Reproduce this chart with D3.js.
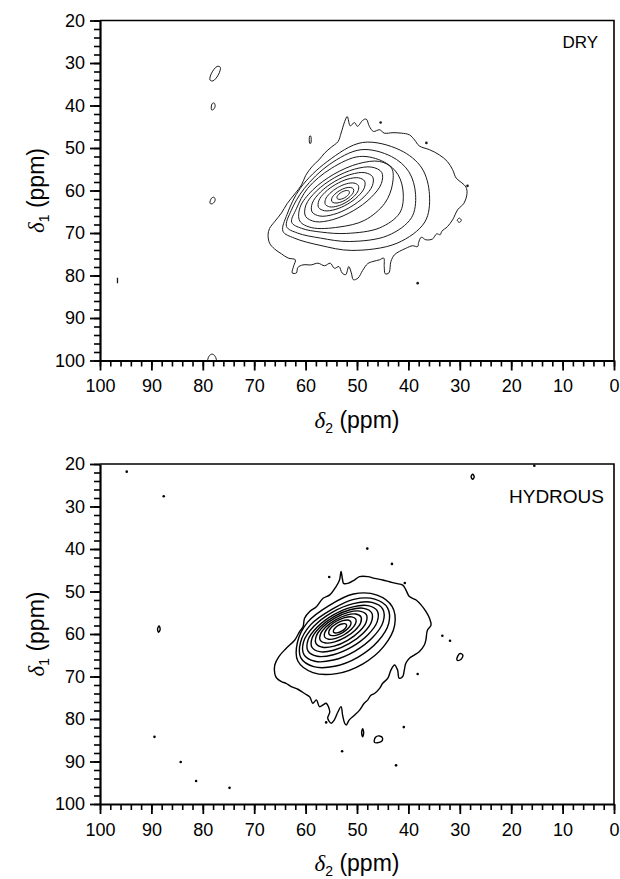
<!DOCTYPE html>
<html lang="en">
<head>
<meta charset="UTF-8">
<title>DRY / HYDROUS contour</title>
<style>
  body { margin: 0; background: #fff; }
  svg { display: block; font-family: "Liberation Sans", Arial, sans-serif; }
</style>
</head>
<body>
<script src="https://d3js.org/d3.v7.min.js"></script>
<script>
// axis ticks
const xTicks = [100, 90, 80, 70, 60, 50, 40, 30, 20, 10, 0];
const yTicks = [20, 30, 40, 50, 60, 70, 80, 90, 100];

// ---- DRY panel: contours as [delta2, delta1] points
const dryOuter = [[51.9,42.6],[51.3,44.8],[50.5,44.0],[49.9,44.9],[48.9,43.5],[48.2,43.2],[47.6,44.9],[46.8,46.1],[45.6,45.7],[44.7,46.5],[43.0,46.4],[41.4,46.5],[39.8,46.9],[38.8,48.1],[37.9,49.5],[35.9,50.4],[34.0,51.6],[32.4,53.2],[31.4,55.1],[30.7,57.1],[29.6,58.2],[28.8,59.2],[28.6,60.7],[29.2,63.0],[30.4,64.5],[31.4,66.9],[32.4,68.5],[33.5,69.6],[33.8,70.4],[34.5,70.2],[35.3,71.4],[36.6,71.6],[37.5,71.0],[38.0,72.2],[38.2,73.2],[39.2,73.0],[40.5,73.6],[41.7,74.3],[42.7,75.1],[43.4,76.7],[43.8,79.4],[44.5,79.6],[44.7,77.9],[44.8,75.9],[45.6,76.3],[46.9,76.7],[47.9,77.2],[48.9,78.8],[49.8,80.6],[50.7,81.0],[51.1,79.4],[51.6,77.9],[52.2,79.8],[52.9,79.4],[53.5,77.9],[54.4,78.3],[55.2,77.1],[56.3,77.7],[57.6,77.1],[58.9,77.5],[60.5,77.5],[61.5,78.1],[61.8,79.4],[62.6,79.4],[62.3,77.7],[62.0,76.3],[63.4,75.9],[64.7,74.9],[66.0,73.8],[67.0,72.4],[67.3,70.4],[67.0,68.9],[66.0,67.3],[64.7,65.3],[63.6,63.1],[62.1,60.8],[60.8,58.7],[60.0,56.5],[58.7,54.3],[57.4,52.8],[56.3,51.2],[55.0,49.8],[53.7,48.5],[53.1,46.5],[52.4,43.8]];

const dryRings = [
  [[51.51,60.22],[51.83,60.00],[52.37,60.07],[53.00,60.39],[53.55,60.89],[53.87,61.42],[53.87,61.86],[53.55,62.08],[53.01,62.01],[52.38,61.69],[51.83,61.19],[51.51,60.66]],
  [[50.69,59.64],[51.24,59.28],[52.22,59.40],[53.34,59.99],[54.32,60.88],[54.90,61.82],[54.91,62.58],[54.36,62.94],[53.38,62.82],[52.26,62.23],[51.28,61.34],[50.70,60.40]],
  [[49.75,58.82],[50.60,58.25],[52.07,58.43],[53.78,59.32],[55.27,60.67],[56.14,62.11],[56.15,63.28],[55.30,63.85],[53.83,63.67],[52.12,62.78],[50.63,61.43],[49.76,59.99]],
  [[48.53,57.77],[49.69,57.02],[51.74,57.30],[54.12,58.55],[56.21,60.42],[57.43,62.42],[57.47,64.01],[56.31,64.76],[54.27,64.48],[51.88,63.23],[49.80,61.36],[48.57,59.36]],
  [[46.95,56.79],[48.47,55.81],[51.16,56.20],[54.31,57.85],[57.06,60.32],[58.69,62.95],[58.75,65.03],[57.23,66.01],[54.54,65.62],[51.39,63.97],[48.64,61.50],[47.01,58.87]],
  [[45.19,55.74],[47.11,54.50],[50.50,54.98],[54.45,57.04],[57.91,60.15],[59.95,63.46],[60.01,66.08],[58.10,67.33],[54.71,66.85],[50.75,64.78],[47.30,61.68],[45.26,58.37]],
  [[43.27,54.72],[45.62,53.16],[49.72,53.69],[54.49,56.16],[58.65,59.92],[61.08,63.96],[61.13,67.18],[58.79,68.75],[53.5,68.6],[48.5,67.0],[44.6,63.0],[43.1,58.5]],
  [[62.7,67.5],[61.8,64.3],[59.6,59.5],[55.0,54.8],[49.5,52.0],[44.7,53.3],[42.0,56.3],[41.0,60.8],[41.7,65.3],[45.6,68.8],[52.0,70.1],[56.9,69.8],[60.8,68.9]],
  [[63.7,68.5],[62.8,64.7],[60.3,59.6],[55.4,53.9],[49.2,50.4],[43.3,52.0],[39.9,55.6],[38.6,61.0],[39.4,66.4],[44.0,70.6],[51.5,72.0],[57.1,71.2],[61.6,70.0]],
  [[64.4,69.6],[63.6,65.6],[61.0,59.4],[55.8,53.2],[48.9,48.7],[41.6,50.5],[37.4,54.7],[35.9,61.0],[36.8,67.4],[42.2,72.4],[51.0,74.1],[57.2,72.9],[62.2,71.2]]
];

const dryIslands = [
  [[78.6,34.0],[78.3,32.4],[77.2,30.8],[76.6,31.0],[76.9,32.6],[78.0,34.2]],
  [[78.3,41.0],[78.2,39.6],[77.8,39.4],[77.6,40.2],[78.0,41.0]],
  [[78.6,63.0],[78.3,61.8],[77.8,61.6],[77.6,62.3],[78.1,63.1]],
  [[79.0,100.4],[78.8,99.0],[78.2,98.5],[77.6,99.0],[77.4,100.4]],
  [[59.2,48.9],[59.2,47.2],[59.0,47.2],[59.0,48.9]],
  [[30.5,67.0],[30.1,66.5],[29.7,67.0],[30.1,67.5]]
];
const dryDashes = [[[96.6,81.8],[96.6,80.5]]];
const dryDots = [[36.5,48.8],[45.4,44.0],[38.2,81.8],[28.5,58.9]];

// ---- HYDROUS panel
const hydOuter = [[53.1,45.3],[52.8,47.3],[52.6,48.1],[51.8,48.1],[50.5,47.3],[49.5,46.5],[47.9,46.5],[46.6,46.9],[45.0,47.3],[43.7,47.7],[42.4,48.1],[41.1,48.5],[40.5,49.6],[39.8,51.2],[38.5,52.0],[37.5,53.2],[36.6,54.7],[35.9,56.3],[35.6,57.9],[36.3,59.1],[36.6,61.4],[36.9,62.6],[37.9,64.2],[38.8,64.9],[39.8,65.7],[40.5,66.9],[40.8,68.5],[41.1,70.0],[41.8,70.4],[42.1,68.5],[42.7,67.3],[43.4,68.5],[44.0,70.4],[45.0,71.6],[45.6,72.8],[46.6,74.0],[47.3,74.4],[47.9,75.5],[48.6,76.3],[49.5,77.9],[50.5,79.1],[51.5,80.2],[52.1,81.4],[52.4,81.0],[52.8,79.1],[53.1,77.1],[53.7,78.3],[54.4,80.2],[55.0,81.0],[55.7,79.8],[55.3,78.3],[56.0,76.3],[56.6,76.7],[57.3,77.1],[57.9,75.5],[58.6,76.3],[59.2,74.8],[60.2,74.0],[61.5,73.0],[62.8,72.4],[63.8,71.6],[64.7,71.2],[65.6,70.4],[66.0,69.3],[66.0,67.3],[65.2,65.3],[63.8,63.4],[62.1,61.4],[61.2,59.5],[60.5,58.3],[60.2,56.3],[59.2,54.7],[57.9,53.6],[56.6,51.6],[55.3,50.8],[54.1,48.9],[53.4,47.3]];

const hydRings = [
  [[52.05,57.78],[52.38,57.57],[52.96,57.64],[53.63,57.99],[54.22,58.52],[54.56,59.09],[54.57,59.54],[54.24,59.76],[53.66,59.68],[52.99,59.33],[52.40,58.80],[52.06,58.24]],
  [[51.22,57.07],[51.77,56.71],[52.75,56.84],[53.87,57.42],[54.86,58.31],[55.43,59.25],[55.44,60.01],[54.89,60.37],[53.92,60.25],[52.79,59.66],[51.81,58.78],[51.23,57.83]],
  [[50.24,56.47],[51.03,55.96],[52.42,56.15],[54.03,57.00],[55.45,58.27],[56.27,59.64],[56.30,60.71],[55.51,61.23],[54.13,61.03],[52.51,60.18],[51.10,58.91],[50.27,57.55]],
  [[49.23,55.95],[50.25,55.30],[52.05,55.56],[54.16,56.67],[56.01,58.32],[57.11,60.08],[57.15,61.47],[56.14,62.12],[54.33,61.86],[52.22,60.75],[50.37,59.10],[49.28,57.34]],
  [[48.18,55.46],[49.47,54.62],[51.71,54.91],[54.32,56.26],[56.60,58.32],[57.93,60.52],[57.96,62.28],[56.68,63.13],[54.44,62.84],[51.82,61.48],[49.55,59.43],[48.22,57.23]],
  [[47.15,55.00],[48.69,53.96],[51.37,54.29],[54.47,55.90],[57.18,58.35],[58.75,61.00],[58.77,63.12],[57.24,64.16],[54.56,63.83],[51.45,62.22],[48.75,59.77],[47.18,57.12]],
  [[46.06,54.57],[47.86,53.32],[50.99,53.66],[54.60,55.50],[57.73,58.36],[59.54,61.46],[59.54,63.97],[57.74,65.23],[54.61,64.88],[51.00,63.04],[47.87,60.18],[46.06,57.09]],
  [[44.98,54.13],[47.11,52.56],[50.72,52.84],[54.84,54.89],[58.39,58.19],[60.39,61.82],[60.32,64.83],[58.20,66.41],[54.59,66.13],[50.46,64.07],[46.92,60.78],[44.92,57.15]],
  [[44.06,53.84],[46.55,51.78],[50.64,51.84],[54.9,54.2],[59.0,57.8],[61.0,62.0],[60.92,65.60],[58.43,67.67],[54.35,67.60],[49.77,65.43],[45.92,61.72],[43.83,57.49]],
  [[43.15,53.54],[46.09,50.84],[50.69,50.58],[55.3,53.2],[59.6,57.2],[61.6,62.0],[61.51,66.36],[58.58,69.07],[53.97,69.33],[48.92,67.08],[44.79,62.92],[42.68,57.97]]
];

const hydIslands = [
  [[88.6,59.6],[88.3,58.9],[88.5,58.1],[88.8,58.8]],
  [[30.5,66.2],[29.8,66.0],[29.4,65.0],[29.9,64.6],[30.4,65.2]],
  [[48.9,84.2],[48.7,83.2],[48.9,82.3],[49.1,83.2]],
  [[46.6,85.5],[45.4,85.4],[45.0,84.6],[45.6,84.0],[46.4,84.3]],
  [[27.5,23.6],[27.2,23.0],[27.5,22.4],[27.8,23.0]]
];
const hydDashes = [];
const hydDots = [[94.8,21.8],[87.6,27.6],[89.4,84.2],[84.3,90.1],[81.3,94.6],[74.8,96.2],[48.0,39.9],[43.2,43.5],[40.7,48.0],[55.4,46.6],[33.4,60.4],[31.9,61.6],[38.2,69.4],[40.9,81.9],[56.0,80.8],[52.9,87.6],[42.4,90.9],[15.5,20.4]];

// ---- layout
const W = 620, H = 879;
const left = 100, right = 614, plotH = 340;

const svg = d3.select("body").append("svg")
    .attr("width", W)
    .attr("height", H);

drawPanel(20.5, "DRY", 17, 598, 48, dryOuter, dryRings, dryIslands, dryDashes, dryDots, 1, "#1a1a1a");
drawPanel(464, "HYDROUS", 19, 604, 503, hydOuter, hydRings, hydIslands, hydDashes, hydDots, 1.4, "#000");

function drawPanel(top, name, nameSize, labelX, labelY, outer, rings, islands, dashes, dots, lw, col) {
    const x = d3.scaleLinear().domain([100, 0]).range([left, right]);
    const y = d3.scaleLinear().domain([20, 100]).range([top, top + plotH]);

    const clipId = "clip-" + name;
    svg.append("clipPath").attr("id", clipId)
        .append("rect")
        .attr("x", left).attr("y", top)
        .attr("width", right - left).attr("height", plotH);

    const g = svg.append("g").attr("clip-path", `url(#${clipId})`);

    const smooth = d3.line()
        .x(d => x(d[0]))
        .y(d => y(d[1]))
        .curve(d3.curveCatmullRomClosed.alpha(0.5));
    const open = d3.line()
        .x(d => x(d[0]))
        .y(d => y(d[1]));

    // contour rings
    g.selectAll(".ring")
        .data([outer].concat(rings).concat(islands))
        .enter()
        .append("path")
        .attr("class", "ring")
        .attr("d", smooth)
        .attr("fill", "none")
        .attr("stroke", col)
        .attr("stroke-width", lw)
        .attr("stroke-linejoin", "round");

    g.selectAll(".dash")
        .data(dashes)
        .enter()
        .append("path")
        .attr("class", "dash")
        .attr("d", open)
        .attr("fill", "none")
        .attr("stroke", col)
        .attr("stroke-width", lw + 0.3);

    g.selectAll(".dot")
        .data(dots)
        .enter()
        .append("circle")
        .attr("cx", d => x(d[0]))
        .attr("cy", d => y(d[1]))
        .attr("r", 1.3)
        .attr("fill", col);

    // frame top + right
    svg.append("path")
        .attr("d", `M${left},${top}H${right}V${top + plotH}`)
        .attr("fill", "none")
        .attr("stroke", "#000")
        .attr("stroke-width", 1.6);

    // minor ticks
    svg.append("g")
        .attr("transform", `translate(0,${top + plotH})`)
        .call(d3.axisBottom(x).tickValues(d3.range(0, 101, 2)).tickSize(6).tickSizeOuter(0).tickFormat(""))
        .call(a => a.selectAll("line").attr("stroke-width", 1.6))
        .call(a => a.select(".domain").remove());
    svg.append("g")
        .attr("transform", `translate(${left},0)`)
        .call(d3.axisLeft(y).tickValues(d3.range(20, 101, 2)).tickSize(6).tickSizeOuter(0).tickFormat(""))
        .call(a => a.selectAll("line").attr("stroke-width", 1.6))
        .call(a => a.select(".domain").remove());

    // major ticks + labels
    const xa = svg.append("g")
        .attr("transform", `translate(0,${top + plotH})`)
        .call(d3.axisBottom(x).tickValues(xTicks).tickSize(10).tickSizeOuter(0).tickPadding(9));
    const ya = svg.append("g")
        .attr("transform", `translate(${left},0)`)
        .call(d3.axisLeft(y).tickValues(yTicks).tickSize(10).tickSizeOuter(0).tickPadding(5));
    [xa, ya].forEach(a => {
        a.select(".domain").attr("stroke-width", 2.2);
        a.selectAll("line").attr("stroke-width", 1.8);
        a.selectAll("text")
            .attr("font-size", 18)
            .attr("font-family", "Liberation Sans, Arial, sans-serif")
            .attr("fill", "#000");
    });

    // panel label
    svg.append("text")
        .attr("x", labelX).attr("y", labelY)
        .attr("text-anchor", "end")
        .attr("font-size", nameSize)
        .text(name);

    // x title
    const xt = svg.append("text")
        .attr("x", (left + right) / 2).attr("y", top + plotH + 67)
        .attr("text-anchor", "middle")
        .attr("font-size", 23);
    xt.append("tspan").attr("font-style", "italic").attr("font-family", "Liberation Serif, serif").text("δ");
    xt.append("tspan").attr("font-size", 14).attr("dy", 5).text("2");
    xt.append("tspan").attr("dy", -5).text(" (ppm)");

    // y title
    const yt = svg.append("text")
        .attr("transform", `translate(44,${top + plotH / 2}) rotate(-90)`)
        .attr("text-anchor", "middle")
        .attr("font-size", 23);
    yt.append("tspan").attr("font-style", "italic").attr("font-family", "Liberation Serif, serif").text("δ");
    yt.append("tspan").attr("font-size", 14).attr("dy", 5).text("1");
    yt.append("tspan").attr("dy", -5).text(" (ppm)");
}
</script>
</body>
</html>
